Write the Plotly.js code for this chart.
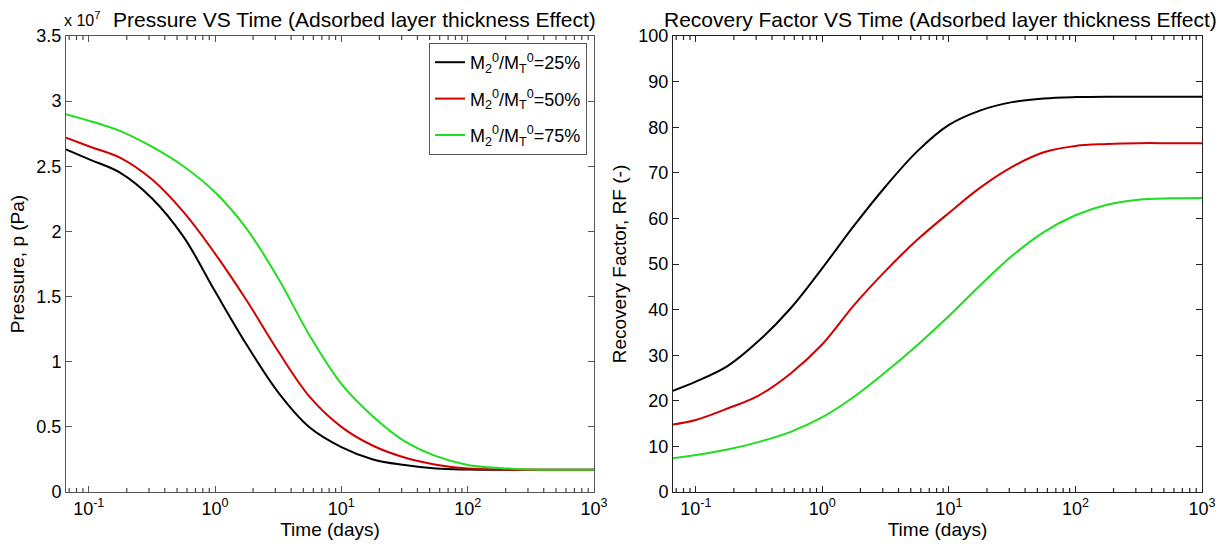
<!DOCTYPE html>
<html>
<head>
<meta charset="utf-8">
<script src="https://cdn.plot.ly/plotly-3.0.1.min.js"></script>
<style>html,body{margin:0;padding:0;background:#fff;}#chart{width:1224px;height:548px;}</style>
</head>
<body>
<div id="chart"></div>
<script>
// Time (days)
var timeDays = [0.066, 0.1, 0.178, 0.316, 0.562, 1, 1.78, 3.16, 5.62, 10, 17.8, 31.6, 56.2, 100, 178, 316, 562, 1000];

// Pressure (x 10^7 Pa)
var pressure25 = [2.63, 2.555, 2.45, 2.255, 1.96, 1.54, 1.13, 0.765, 0.495, 0.345, 0.25, 0.207, 0.18, 0.172, 0.17, 0.17, 0.17, 0.17];
var pressure50 = [2.72, 2.654, 2.565, 2.40, 2.15, 1.83, 1.47, 1.08, 0.73, 0.50, 0.355, 0.265, 0.21, 0.18, 0.172, 0.17, 0.17, 0.17];
var pressure75 = [2.90, 2.85, 2.77, 2.65, 2.50, 2.30, 2.02, 1.64, 1.20, 0.83, 0.58, 0.39, 0.275, 0.208, 0.185, 0.172, 0.17, 0.17];

// Recovery factor (-)
var rf25 = [22.2, 24.2, 27.6, 33.2, 40.3, 49.1, 58.4, 67.0, 74.7, 80.5, 83.7, 85.5, 86.3, 86.6, 86.7, 86.7, 86.7, 86.7];
var rf50 = [14.8, 15.8, 18.3, 21.2, 26.0, 32.4, 41.0, 48.5, 55.3, 61.2, 66.8, 71.3, 74.5, 75.9, 76.3, 76.5, 76.5, 76.5];
var rf75 = [7.4, 8.1, 9.3, 11.0, 13.2, 16.4, 20.9, 26.3, 32.2, 38.6, 45.4, 51.8, 57.0, 60.7, 63.0, 64.1, 64.4, 64.5];

var seriesNames = ['M<sub>2</sub><sup>0</sup>/M<sub>T</sub><sup>0</sup>=25%',
                   'M<sub>2</sub><sup>0</sup>/M<sub>T</sub><sup>0</sup>=50%',
                   'M<sub>2</sub><sup>0</sup>/M<sub>T</sub><sup>0</sup>=75%'];
var seriesColors = ['#000000', '#d10000', '#1fdd1f'];

var xTickVals = [0.1, 1, 10, 100, 1000];
var xTickText = ['10<sup>-1</sup>', '10<sup>0</sup>', '10<sup>1</sup>', '10<sup>2</sup>', '10<sup>3</sup>'];
var pTickVals = [0, 0.5, 1, 1.5, 2, 2.5, 3, 3.5];
var pTickText = ['0', '0.5', '1', '1.5', '2', '2.5', '3', '3.5'];
var rfTickVals = [0, 10, 20, 30, 40, 50, 60, 70, 80, 90, 100];

var FONT = 'Liberation Sans, Arial, sans-serif';
var X_RANGE = [-1.18, 3];
var PLOT_H = 456;
var LEFT_DOM = [66 / 1224, 594 / 1224];
var RIGHT_DOM = [673 / 1224, 1202 / 1224];

var pSeries = [pressure25, pressure50, pressure75];
var rfSeries = [rf25, rf50, rf75];
var traces = [];
for (var i = 0; i < 3; i++) {
  traces.push({x: timeDays, y: pSeries[i], type: 'scatter', mode: 'lines', name: seriesNames[i],
    legendgroup: 'g' + i,
    line: {color: seriesColors[i], width: 2, shape: 'spline', smoothing: 1}, xaxis: 'x', yaxis: 'y', showlegend: true});
}
for (var i = 0; i < 3; i++) {
  traces.push({x: timeDays, y: rfSeries[i], type: 'scatter', mode: 'lines', name: seriesNames[i],
    legendgroup: 'g' + i,
    line: {color: seriesColors[i], width: 2, shape: 'spline', smoothing: 1}, xaxis: 'x2', yaxis: 'y2', showlegend: false});
}

// minor log ticks (2..9 per decade) as short tick marks on bottom and top frame
function minorTickShapes(dom, color) {
  var out = [];
  var len = 4 / PLOT_H;
  for (var d = -2; d <= 2; d++) {
    for (var k = 2; k <= 9; k++) {
      var lg = Math.log(k * Math.pow(10, d)) / Math.LN10;
      if (lg <= X_RANGE[0] || lg >= X_RANGE[1]) continue;
      var px = dom[0] + (lg - X_RANGE[0]) / (X_RANGE[1] - X_RANGE[0]) * (dom[1] - dom[0]);
      out.push({type: 'line', xref: 'paper', yref: 'paper', x0: px, x1: px, y0: 0, y1: len,
                line: {color: color, width: 1.2}, layer: 'above'});
      out.push({type: 'line', xref: 'paper', yref: 'paper', x0: px, x1: px, y0: 1 - len, y1: 1,
                line: {color: color, width: 1.2}, layer: 'above'});
    }
  }
  return out;
}

function xAxis(domain, anchor, lc) {
  return {
    type: 'log', domain: domain, anchor: anchor, range: X_RANGE,
    tickmode: 'array', tickvals: xTickVals, ticktext: xTickText,
    ticks: 'inside', ticklen: 6, tickcolor: lc, showline: true, linecolor: lc, linewidth: 1, mirror: 'ticks',
    showgrid: false, zeroline: false,
    tickfont: {family: FONT, size: 18, color: '#000'},
    title: {text: 'Time (days)', font: {family: FONT, size: 19, color: '#000'}, standoff: 4}
  };
}
function yAxis(anchor, lc, range, tv, tt, title) {
  var a = {
    anchor: anchor, range: range, tickmode: 'array', tickvals: tv,
    ticks: 'inside', ticklen: 6, tickcolor: lc, showline: true, linecolor: lc, linewidth: 1, mirror: 'ticks',
    showgrid: false, zeroline: false,
    tickfont: {family: FONT, size: 18, color: '#000'},
    title: {text: title, font: {family: FONT, size: 19, color: '#000'}, standoff: 6}
  };
  if (tt) a.ticktext = tt;
  return a;
}

var layout = {
  width: 1224, height: 548,
  margin: {l: 0, r: 0, t: 36, b: 56},
  paper_bgcolor: '#ffffff', plot_bgcolor: '#ffffff',
  font: {family: FONT, color: '#000'},
  xaxis: xAxis(LEFT_DOM, 'y', '#555'),
  yaxis: yAxis('x', '#555', [0, 3.5], pTickVals, pTickText, 'Pressure, p (Pa)'),
  xaxis2: xAxis(RIGHT_DOM, 'y2', '#222'),
  yaxis2: yAxis('x2', '#222', [0, 100], rfTickVals, null, 'Recovery Factor, RF (-)'),
  shapes: minorTickShapes(LEFT_DOM, '#444').concat(minorTickShapes(RIGHT_DOM, '#222')),
  showlegend: true,
  legend: {
    x: 587 / 1224, xanchor: 'right', xref: 'paper',
    y: (492 - 43) / 456, yanchor: 'top', yref: 'paper',
    bgcolor: '#ffffff', bordercolor: '#555', borderwidth: 1,
    font: {family: FONT, size: 18, color: '#000'},
    tracegroupgap: 10, itemwidth: 30
  },
  annotations: [
    {text: 'Pressure VS Time (Adsorbed layer thickness Effect)', xref: 'paper', yref: 'paper',
     x: 354 / 1224, y: 1, yshift: 3, xanchor: 'center', yanchor: 'bottom', showarrow: false,
     font: {family: FONT, size: 21, color: '#000'}},
    {text: 'Recovery Factor VS Time (Adsorbed layer thickness Effect)', xref: 'paper', yref: 'paper',
     x: 940 / 1224, y: 1, yshift: 3, xanchor: 'center', yanchor: 'bottom', showarrow: false,
     font: {family: FONT, size: 21, color: '#000'}},
    {text: 'x 10<sup>7</sup>', xref: 'paper', yref: 'paper',
     x: 62 / 1224, y: 1, yshift: 5, xanchor: 'left', yanchor: 'bottom', showarrow: false,
     font: {family: FONT, size: 16, color: '#000'}}
  ]
};

Plotly.newPlot('chart', traces, layout, {displayModeBar: false, staticPlot: true});
</script>
</body>
</html>
